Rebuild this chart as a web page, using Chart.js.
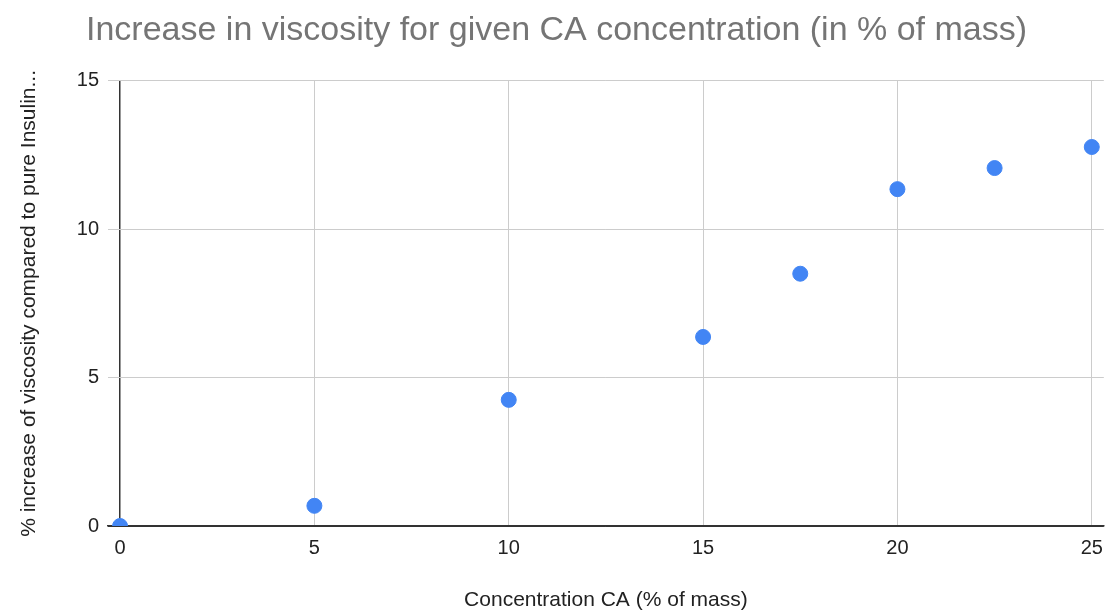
<!DOCTYPE html>
<html lang="en">
<head>
    <meta charset="UTF-8">
    <title>Increase in viscosity for given CA concentration</title>
    <script src="https://cdn.jsdelivr.net/npm/chart.js"></script>
    <style>
        html, body { margin: 0; padding: 0; background: #fff; overflow: hidden; }
        /* a few px wider than the window: the point overflow padding eats the right edge */
        #wrap { width: 1113px; height: 613px; }
    </style>
</head>
<body>
    <div id="wrap"><canvas id="viscosityChart"></canvas></div>
    <script>
        const concentration = [0, 5, 10, 15, 17.5, 20, 22.5, 25];
        const viscosityIncrease = [0, 0.68, 4.25, 6.37, 8.5, 11.35, 12.06, 12.77];
        const xTicks = [0, 5, 10, 15, 20, 25];
        const yTicks = [0, 5, 10, 15];

        const points = concentration.map((c, i) => ({ x: c, y: viscosityIncrease[i] }));
        const dark = '#333333';
        const light = '#cccccc';
        const fontFamily = 'Liberation Sans, Arial, sans-serif';

        const ctx = document.getElementById('viscosityChart').getContext('2d');
        new Chart(ctx, {
            type: 'scatter',
            data: {
                datasets: [{
                    data: points,
                    backgroundColor: '#4285f4',
                    borderColor: '#4285f4',
                    pointRadius: 7.5,
                    pointHoverRadius: 7.5,
                    clip: 0
                }]
            },
            options: {
                responsive: true,
                maintainAspectRatio: false,
                animation: false,
                layout: { padding: { left: 0, right: 0, top: 0, bottom: 0 } },
                plugins: {
                    legend: { display: false },
                    tooltip: { enabled: false },
                    title: {
                        display: true,
                        text: 'Increase in viscosity for given CA concentration (in % of mass)',
                        color: '#757575',
                        font: { family: fontFamily, size: 34, weight: 'normal' },
                        padding: { top: 10, bottom: 30 }
                    }
                },
                scales: {
                    x: {
                        type: 'linear',
                        min: -0.31,
                        max: 25.31,
                        afterBuildTicks: axis => { axis.ticks = xTicks.map(v => ({ value: v })); },
                        afterFit: axis => { axis.height = 87; },
                        ticks: {
                            color: '#222',
                            padding: 10,
                            font: { family: fontFamily, size: 20 }
                        },
                        grid: {
                            drawTicks: false,
                            color: c => c.tick && c.tick.value === 0 ? dark : light,
                            lineWidth: c => c.tick && c.tick.value === 0 ? 1.5 : 1
                        },
                        border: { display: true, color: dark, width: 1.5 },
                        title: {
                            display: true,
                            text: 'Concentration CA (% of mass)',
                            color: '#222',
                            font: { family: fontFamily, size: 21 },
                            padding: { top: 0, bottom: 0 }
                        }
                    },
                    y: {
                        min: 0,
                        max: 15,
                        afterBuildTicks: axis => { axis.ticks = yTicks.map(v => ({ value: v })); },
                        afterFit: axis => { axis.width = 108; },
                        ticks: {
                            color: '#222',
                            padding: 9,
                            font: { family: fontFamily, size: 20 }
                        },
                        grid: {
                            drawTicks: false,
                            color: c => c.tick && c.tick.value === 0 ? dark : light,
                            lineWidth: 1
                        },
                        border: { display: false },
                        title: {
                            display: true,
                            text: '% increase of viscosity compared to pure Insulin...',
                            color: '#222',
                            font: { family: fontFamily, size: 21 },
                            padding: { top: 17, bottom: 0 }
                        }
                    }
                }
            }
        });
    </script>
</body>
</html>
